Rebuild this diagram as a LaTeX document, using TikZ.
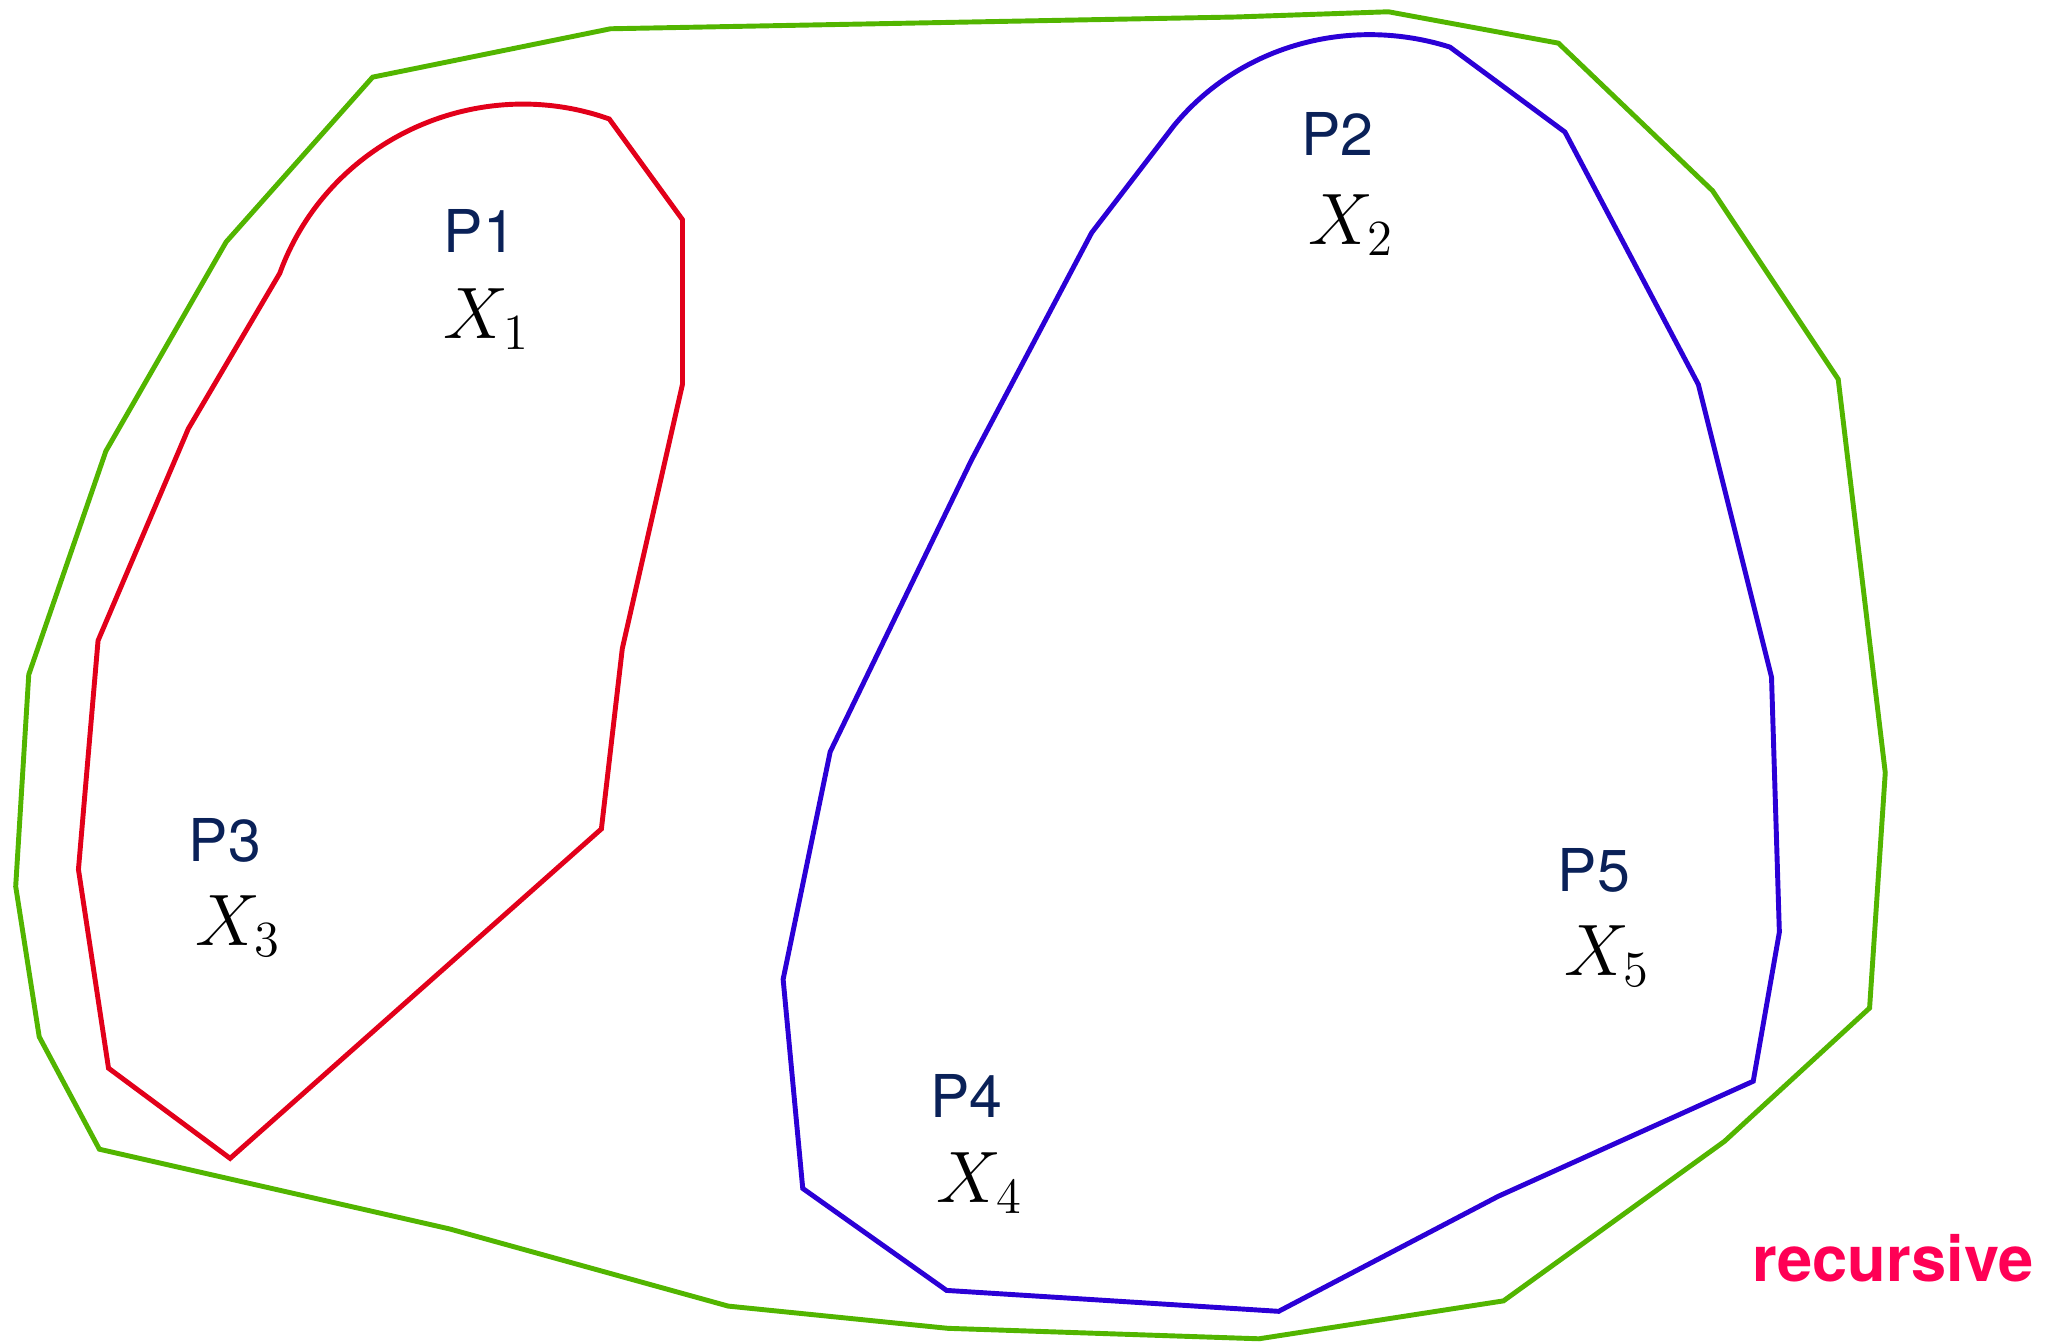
\documentclass[tikz,border=0pt]{standalone}
\usepackage{fontspec}
\setmainfont{TeX Gyre Heros}
\definecolor{polyred}{HTML}{E2001A}
\definecolor{polyblue}{HTML}{2B00D6}
\definecolor{polygreen}{HTML}{52B500}
\definecolor{labelnavy}{HTML}{0A2158}
\definecolor{recpink}{HTML}{FF0055}
\begin{document}
\begin{tikzpicture}[x={(0.013074cm,0)}, y={(0,-0.013074cm)},
 outline/.style={line width=1.4pt, line join=miter},
 plabel/.style={anchor=base west, inner sep=0pt, text=labelnavy, font=\fontsize{16.8}{18}\selectfont},
 xlabel/.style={anchor=base west, inner sep=0pt, font=\fontsize{19.5}{22}\selectfont}]
\useasboundingbox (0,0) rectangle (1568,1026);
% outer green hull
\draw[outline, polygreen] (467,22) -- (945,13) -- (1062,9) -- (1192,33) -- (1310,146) -- (1406,290)
  -- (1442,591) -- (1430,771) -- (1319,873) -- (1150,995) -- (963,1024) -- (725,1016)
  -- (557,999) -- (344,940) -- (76,879) -- (30,793) -- (12,678) -- (22,516) -- (81,345)
  -- (173,185) -- (285,59) -- cycle;
% red region
\draw[outline, polyred] (214,209) .. controls (251,107) and (365,55) .. (466,91)
  -- (522,168) -- (522,294) -- (476,496) -- (460,634) -- (176,886) -- (83,817)
  -- (60,665) -- (75,490) -- (144,328) -- cycle;
% blue region
\draw[outline, polyblue] (898,96) .. controls (949,34) and (1033,12) .. (1109,36)
  -- (1197,101) -- (1299,294) -- (1355,518) -- (1361,713) -- (1341,827) -- (1146,915)
  -- (978,1003) -- (724,987) -- (614,909) -- (599,749) -- (635,575) -- (743,352)
  -- (835,178) -- cycle;
% labels
\node[plabel] (p1) at (339,193) {P1};
\node[xlabel] (x1) at (339,259) {$X_1$};
\node[plabel] (p2) at (995,119) {P2};
\node[xlabel] (x2) at (1000,187) {$X_2$};
\node[plabel] (p3) at (144,659) {P3};
\node[xlabel] (x3) at (149,723) {$X_3$};
\node[plabel] (p4) at (711,855) {P4};
\node[xlabel] (x4) at (716,920) {$X_4$};
\node[plabel] (p5) at (1191,682) {P5};
\node[xlabel] (x5) at (1196,746) {$X_5$};
\node[anchor=base east, inner sep=0pt, text=recpink, font=\fontsize{18}{20}\selectfont\bfseries] (rec) at (1556,980) {recursive};
\end{tikzpicture}
\end{document}
